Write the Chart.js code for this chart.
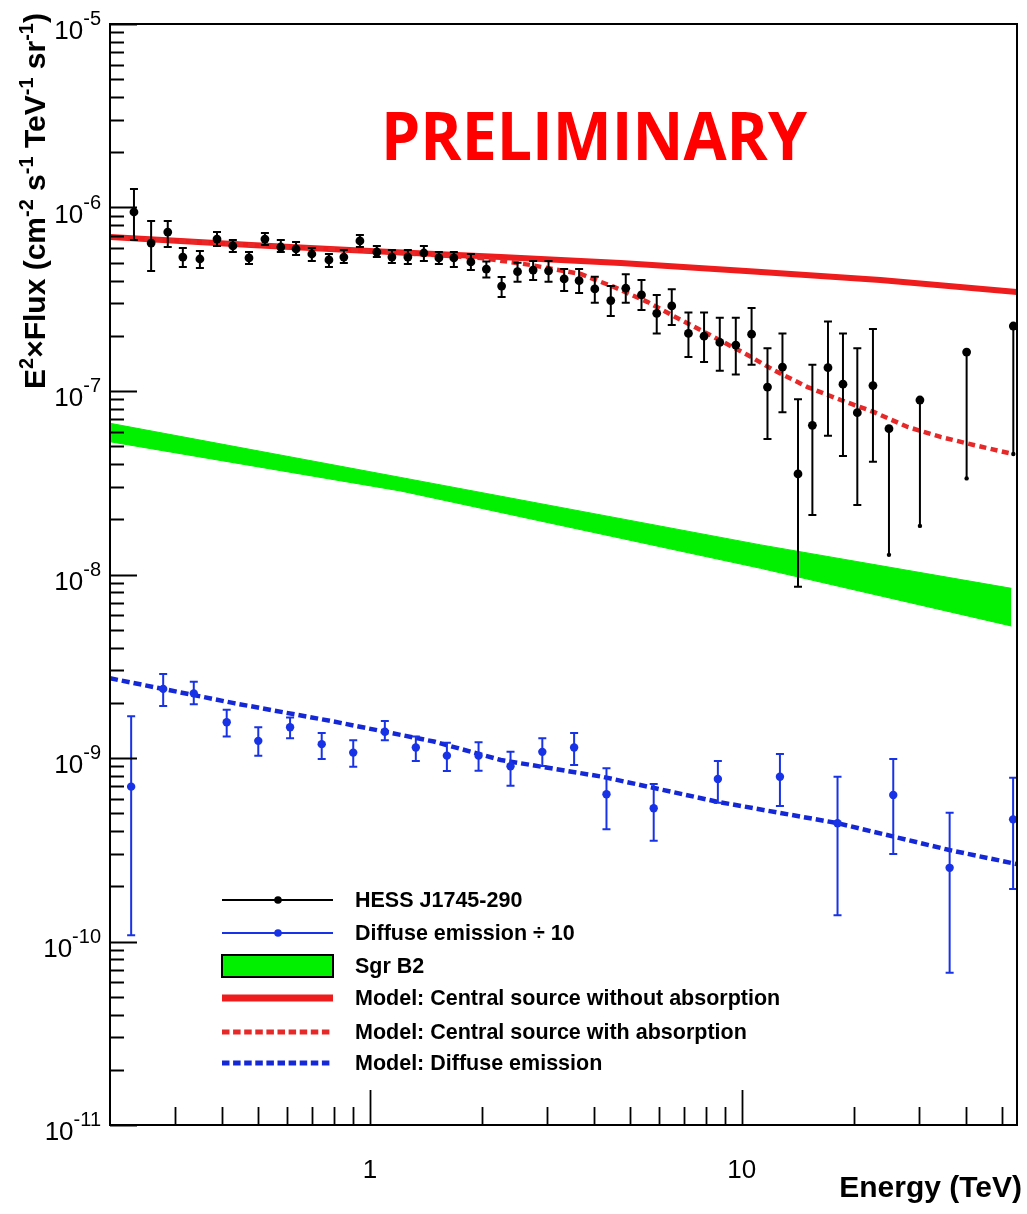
<!DOCTYPE html>
<html><head><meta charset="utf-8">
<script src="https://cdn.jsdelivr.net/npm/chart.js@4/dist/chart.umd.min.js"></script>
<style>html,body{margin:0;padding:0;background:#fff;}canvas{display:block;}</style>
</head><body><canvas id="c" width="1027" height="1214"></canvas>
<script>
// ---------- axis ranges & tick labels ----------
const X_MIN = 0.2, X_MAX = 55, Y_MIN = 1e-11, Y_MAX = 1e-5;
const yTickValues = [1e-11, 1e-10, 1e-9, 1e-8, 1e-7, 1e-6, 1e-5];
const yTickExp = ["-11", "-10", "-9", "-8", "-7", "-6", "-5"];
const xTickValues = [1, 10];
const xTickLabels = ["1", "10"];

// ---------- HESS J1745-290 ----------
const hessE = [0.232,0.258,0.286,0.314,0.349,0.388,0.428,0.473,0.522,0.576,0.633,0.698,0.776,0.851,0.940,1.044,1.146,1.265,1.397,1.533,1.682,1.869,2.057,2.261,2.495,2.748,3.023,3.330,3.653,4.026,4.445,4.877,5.376,5.908,6.484,7.19,7.92,8.73,9.64,10.63,11.73,12.87,14.17,15.49,17.06,18.72,20.46,22.54,24.89,30.15,40.26,53.76];
const hessF = [9.45e-7,6.40e-7,7.35e-7,5.37e-7,5.24e-7,6.73e-7,6.17e-7,5.31e-7,6.73e-7,6.09e-7,5.94e-7,5.58e-7,5.18e-7,5.37e-7,6.57e-7,5.72e-7,5.37e-7,5.37e-7,5.65e-7,5.31e-7,5.31e-7,5.05e-7,4.62e-7,3.73e-7,4.47e-7,4.56e-7,4.52e-7,4.08e-7,3.99e-7,3.60e-7,3.11e-7,3.63e-7,3.34e-7,2.65e-7,2.91e-7,2.06e-7,1.99e-7,1.84e-7,1.78e-7,2.04e-7,1.05e-7,1.35e-7,3.53e-8,6.50e-8,1.34e-7,1.09e-7,7.62e-8,1.07e-7,6.23e-8,8.93e-8,1.63e-7,2.26e-7];
const hessHi = [1.26e-6,8.44e-7,8.44e-7,6.02e-7,5.79e-7,7.35e-7,6.65e-7,5.72e-7,7.26e-7,6.65e-7,6.49e-7,6.02e-7,5.58e-7,5.87e-7,7.08e-7,6.17e-7,5.87e-7,5.87e-7,6.17e-7,5.72e-7,5.72e-7,5.58e-7,5.08e-7,4.18e-7,5.00e-7,5.11e-7,5.11e-7,4.62e-7,4.62e-7,4.20e-7,3.73e-7,4.33e-7,4.03e-7,3.34e-7,3.58e-7,2.68e-7,2.68e-7,2.51e-7,2.51e-7,2.83e-7,1.71e-7,2.06e-7,9.01e-8,1.39e-7,2.39e-7,2.06e-7,1.71e-7,2.18e-7,6.23e-8,8.93e-8,1.63e-7,2.26e-7];
const hessLo = [6.65e-7,4.51e-7,6.09e-7,4.74e-7,4.68e-7,6.17e-7,5.72e-7,4.92e-7,6.25e-7,5.72e-7,5.51e-7,5.11e-7,4.74e-7,4.98e-7,6.09e-7,5.37e-7,4.98e-7,4.92e-7,5.11e-7,4.92e-7,4.74e-7,4.56e-7,4.15e-7,3.25e-7,3.94e-7,4.03e-7,3.94e-7,3.51e-7,3.42e-7,3.03e-7,2.56e-7,3.03e-7,2.76e-7,2.06e-7,2.29e-7,1.53e-7,1.44e-7,1.29e-7,1.23e-7,1.39e-7,5.47e-8,7.66e-8,8.58e-9,2.11e-8,5.71e-8,4.42e-8,2.39e-8,4.12e-8,1.28e-8,1.84e-8,3.34e-8,4.54e-8];

// ---------- Diffuse emission / 10 ----------
const diffE = [0.228,0.278,0.336,0.412,0.501,0.610,0.742,0.902,1.097,1.329,1.611,1.960,2.389,2.909,3.542,4.328,5.798,8.627,12.67,18.10,25.56,36.24,53.69];
const diffF = [6.98e-10,2.38e-9,2.25e-9,1.565e-9,1.24e-9,1.47e-9,1.19e-9,1.07e-9,1.39e-9,1.14e-9,1.03e-9,1.03e-9,9.01e-10,1.08e-9,1.14e-9,6.34e-10,5.32e-10,7.69e-10,7.91e-10,4.41e-10,6.29e-10,2.52e-10,4.63e-10];
const diffHi = [1.69e-9,2.87e-9,2.60e-9,1.83e-9,1.47e-9,1.66e-9,1.37e-9,1.25e-9,1.59e-9,1.31e-9,1.21e-9,1.22e-9,1.08e-9,1.28e-9,1.37e-9,8.79e-10,7.22e-10,9.63e-10,1.05e-9,7.91e-10,9.88e-10,5.03e-10,7.81e-10];
const diffLo = [1.08e-10,1.92e-9,1.96e-9,1.31e-9,1.03e-9,1.28e-9,9.88e-10,8.97e-10,1.25e-9,9.63e-10,8.50e-10,8.53e-10,7.06e-10,9.05e-10,9.16e-10,4.09e-10,3.54e-10,5.71e-10,5.47e-10,1.39e-10,3.0e-10,6.76e-11,1.93e-10];

// ---------- Sgr B2 band ----------
const bandE = [0.2, 1.211, 11.25, 53.1];
const bandHi = [6.67e-8, 3.38e-8, 1.45e-8, 8.41e-9];
const bandLo = [5.29e-8, 2.85e-8, 1.08e-8, 5.24e-9];

// ---------- Models ----------
const modelE = [0.2, 0.479, 1, 2.25, 4.73, 10.77, 23.6, 55];
const modelF = [6.91e-7, 6.25e-7, 5.79e-7, 5.37e-7, 4.98e-7, 4.48e-7, 4.03e-7, 3.46e-7];
const absE = [0.2, 0.479, 1, 1.99, 2.71, 3.69, 4.53, 5.59, 6.86, 8.41, 10.38, 12.19, 15.04, 18.46, 22.63, 27.94, 34.27, 42.04, 53.5];
const absF = [6.91e-7, 6.25e-7, 5.79e-7, 5.31e-7, 4.86e-7, 4.34e-7, 3.69e-7, 3.05e-7, 2.44e-7, 1.97e-7, 1.57e-7, 1.30e-7, 1.05e-7, 8.93e-8, 7.69e-8, 6.37e-8, 5.62e-8, 5.08e-8, 4.54e-8];
const dmE = [0.2, 0.431, 0.80, 1.486, 2.25, 4.21, 8.58, 18.15, 36.2, 55];
const dmF = [2.72e-9, 1.99e-9, 1.58e-9, 1.23e-9, 9.75e-10, 7.91e-10, 5.78e-10, 4.41e-10, 3.15e-10, 2.64e-10];

// ---------- legend ----------
const legendLabels = ["HESS J1745-290", "Diffuse emission \u00F7 10", "Sgr B2",
  "Model: Central source without absorption", "Model: Central source with absorption", "Model: Diffuse emission"];

// ---------- styles ----------
const C_BLACK = '#000000', C_BLUE = '#1832e6', C_BLUE_LINE = '#1428d8',
      C_RED = '#ee1c1c', C_RED_DASH = '#e62828', C_GREEN = '#00f000';
const FONT = '"Liberation Sans", Arial, Helvetica, sans-serif';

const pts = (E, F) => E.map((e, i) => ({x: e, y: F[i]}));

function buildLogTicks(scale) {
  const t = [];
  const lo = Math.floor(Math.log10(scale.min)), hi = Math.ceil(Math.log10(scale.max));
  for (let e = lo; e <= hi; e++) {
    for (let m = 1; m <= 9; m++) {
      const v = m * Math.pow(10, e);
      if (v >= scale.min * (1 - 1e-9) && v <= scale.max * (1 + 1e-9)) t.push({value: v, major: m === 1});
    }
  }
  scale.ticks = t;
}

function drawErrors(ctx, xs, ys, E, F, LO, HI, color, capHalf) {
  ctx.save();
  ctx.strokeStyle = color; ctx.fillStyle = color; ctx.lineWidth = 2;
  for (let i = 0; i < E.length; i++) {
    const px = xs.getPixelForValue(E[i]);
    const pHi = ys.getPixelForValue(HI[i]);
    const pLo = ys.getPixelForValue(LO[i]);
    ctx.beginPath(); ctx.moveTo(px, pHi); ctx.lineTo(px, pLo); ctx.stroke();
    if (HI[i] > F[i]) {
      ctx.beginPath();
      ctx.moveTo(px - capHalf, pHi); ctx.lineTo(px + capHalf, pHi);
      ctx.moveTo(px - capHalf, pLo); ctx.lineTo(px + capHalf, pLo);
      ctx.stroke();
    } else {
      ctx.beginPath(); ctx.arc(px, pLo, 2.2, 0, Math.PI * 2); ctx.fill();
    }
  }
  ctx.restore();
}

function drawRich(ctx, segs, x, y, baseFont, supFont, supRise) {
  let cx = x;
  for (const [t, sup] of segs) {
    ctx.font = sup ? supFont : baseFont;
    ctx.fillText(t, cx, sup ? y - supRise : y);
    cx += ctx.measureText(t).width;
  }
}

const decor = {
  id: 'decor',
  afterDatasetsDraw(chart) {
    const ctx = chart.ctx, xs = chart.scales.x, ys = chart.scales.y;
    drawErrors(ctx, xs, ys, hessE, hessF, hessLo, hessHi, C_BLACK, 4);
    drawErrors(ctx, xs, ys, diffE, diffF, diffLo, diffHi, C_BLUE, 4);
  },
  afterDraw(chart) {
    const ctx = chart.ctx, xs = chart.scales.x, ys = chart.scales.y, a = chart.chartArea;
    ctx.save();
    // frame
    ctx.strokeStyle = '#000'; ctx.lineWidth = 2;
    ctx.strokeRect(a.left, a.top, a.right - a.left, a.bottom - a.top);
    // ticks
    ctx.lineWidth = 1.8;
    ctx.beginPath();
    for (const t of xs.ticks) {
      if (Math.abs(Math.log10(t.value / X_MIN)) < 1e-6 || Math.abs(Math.log10(t.value / X_MAX)) < 1e-6) continue;
      const px = Math.round(xs.getPixelForValue(t.value)) + 0.5;
      const len = t.major ? 35 : 18;
      ctx.moveTo(px, a.bottom); ctx.lineTo(px, a.bottom - len);
    }
    for (const t of ys.ticks) {
      const py = Math.round(ys.getPixelForValue(t.value)) + 0.5;
      const len = t.major ? 27 : 14;
      ctx.moveTo(a.left, py); ctx.lineTo(a.left + len, py);
    }
    ctx.stroke();
    // y tick labels
    ctx.fillStyle = '#000'; ctx.textAlign = 'left'; ctx.textBaseline = 'alphabetic';
    const baseF = '26px ' + FONT, expF = '20px ' + FONT;
    yTickValues.forEach((v, i) => {
      const py = ys.getPixelForValue(v);
      ctx.font = expF; const ew = ctx.measureText(yTickExp[i]).width;
      ctx.font = baseF; const bw = ctx.measureText('10').width;
      const right = 101;
      ctx.fillText('10', right - ew - bw, py + 15);
      ctx.font = expF; ctx.fillText(yTickExp[i], right - ew, py + 1);
    });
    // x tick labels
    ctx.textAlign = 'center'; ctx.font = '26px ' + FONT;
    xTickValues.forEach((v, i) => {
      ctx.fillText(xTickLabels[i], xs.getPixelForValue(v), 1178);
    });
    // axis titles
    ctx.textAlign = 'right'; ctx.font = 'bold 30px ' + FONT;
    ctx.fillText('Energy (TeV)', 1022, 1197);
    ctx.textAlign = 'left';
    ctx.save();
    ctx.translate(45, 389); ctx.rotate(-Math.PI / 2);
    drawRich(ctx, [['E', 0], ['2', 1], ['\u00D7Flux (cm', 0], ['-2', 1], [' s', 0], ['-1', 1], [' TeV', 0], ['-1', 1], [' sr', 0], ['-1', 1], [')', 0]],
      0, 0, 'bold 30px ' + FONT, 'bold 20px ' + FONT, 12);
    ctx.restore();
    // PRELIMINARY
    ctx.fillStyle = '#ff0000'; ctx.font = 'bold 66px "Open Sans", sans-serif';
    ctx.fillText('PRELIMINARY', 381, 160, 426);
    // legend
    const lx0 = 222, lx1 = 333, tx = 355;
    const rows = [900, 933, 966, 998, 1032, 1063];
    ctx.font = 'bold 21.5px ' + FONT; ctx.textBaseline = 'middle'; ctx.fillStyle = '#000';
    legendLabels.forEach((s, i) => ctx.fillText(s, tx, rows[i] + 1));
    // row 0
    ctx.strokeStyle = C_BLACK; ctx.lineWidth = 2;
    ctx.beginPath(); ctx.moveTo(lx0, rows[0]); ctx.lineTo(lx1, rows[0]); ctx.stroke();
    ctx.fillStyle = C_BLACK; ctx.beginPath(); ctx.arc(278, rows[0], 3.8, 0, Math.PI * 2); ctx.fill();
    // row 1
    ctx.strokeStyle = C_BLUE; ctx.lineWidth = 2;
    ctx.beginPath(); ctx.moveTo(lx0, rows[1]); ctx.lineTo(lx1, rows[1]); ctx.stroke();
    ctx.fillStyle = C_BLUE; ctx.beginPath(); ctx.arc(278, rows[1], 3.8, 0, Math.PI * 2); ctx.fill();
    // row 2
    ctx.fillStyle = C_GREEN; ctx.fillRect(lx0, 955, lx1 - lx0, 22);
    ctx.strokeStyle = '#000'; ctx.lineWidth = 2; ctx.strokeRect(lx0, 955, lx1 - lx0, 22);
    // row 3
    ctx.strokeStyle = C_RED; ctx.lineWidth = 7;
    ctx.beginPath(); ctx.moveTo(lx0, rows[3]); ctx.lineTo(lx1, rows[3]); ctx.stroke();
    // row 4
    ctx.strokeStyle = C_RED_DASH; ctx.lineWidth = 5; ctx.setLineDash([7.5, 3.6]);
    ctx.beginPath(); ctx.moveTo(lx0, rows[4]); ctx.lineTo(lx1, rows[4]); ctx.stroke();
    // row 5
    ctx.strokeStyle = C_BLUE_LINE;
    ctx.beginPath(); ctx.moveTo(lx0, rows[5]); ctx.lineTo(lx1, rows[5]); ctx.stroke();
    ctx.setLineDash([]);
    ctx.restore();
  }
};

new Chart(document.getElementById('c'), {
  type: 'scatter',
  data: {
    datasets: [
      { label: 'HESS J1745-290', data: pts(hessE, hessF), showLine: false, pointRadius: 4.4, pointBackgroundColor: C_BLACK, pointBorderColor: C_BLACK, pointBorderWidth: 0, order: 0 },
      { label: 'Diffuse emission ÷ 10', data: pts(diffE, diffF), showLine: false, pointRadius: 4.2, pointBackgroundColor: C_BLUE, pointBorderColor: C_BLUE, pointBorderWidth: 0, order: 0 },
      { label: 'Model: Diffuse emission', data: pts(dmE, dmF), showLine: true, borderColor: C_BLUE_LINE, borderWidth: 4.5, borderDash: [8, 4], pointRadius: 0, tension: 0, fill: false, order: 1 },
      { label: 'Model: Central source with absorption', data: pts(absE, absF), showLine: true, borderColor: C_RED_DASH, borderWidth: 4.5, borderDash: [7, 4.5], pointRadius: 0, tension: 0, fill: false, order: 2 },
      { label: 'Model: Central source without absorption', data: pts(modelE, modelF), showLine: true, borderColor: C_RED, borderWidth: 6, pointRadius: 0, tension: 0, fill: false, order: 3 },
      { label: 'Sgr B2 upper', data: pts(bandE, bandHi), showLine: true, borderColor: C_GREEN, borderWidth: 1, backgroundColor: C_GREEN, pointRadius: 0, tension: 0, fill: '+1', order: 4 },
      { label: 'Sgr B2 lower', data: pts(bandE, bandLo), showLine: true, borderColor: C_GREEN, borderWidth: 1, pointRadius: 0, tension: 0, fill: false, order: 5 }
    ]
  },
  options: {
    responsive: false, animation: false, devicePixelRatio: 1,
    layout: { padding: { left: 110, right: 10, top: 24, bottom: 89 } },
    plugins: { legend: { display: false }, tooltip: { enabled: false }, title: { display: false } },
    scales: {
      x: { type: 'logarithmic', min: X_MIN, max: X_MAX, grid: { display: false }, border: { display: false },
           ticks: { display: false, autoSkip: false }, afterBuildTicks: buildLogTicks, afterFit(s) { s.height = 0; } },
      y: { type: 'logarithmic', min: Y_MIN, max: Y_MAX, grid: { display: false }, border: { display: false },
           ticks: { display: false, autoSkip: false }, afterBuildTicks: buildLogTicks, afterFit(s) { s.width = 0; } }
    }
  },
  plugins: [decor]
});
</script></body></html>
